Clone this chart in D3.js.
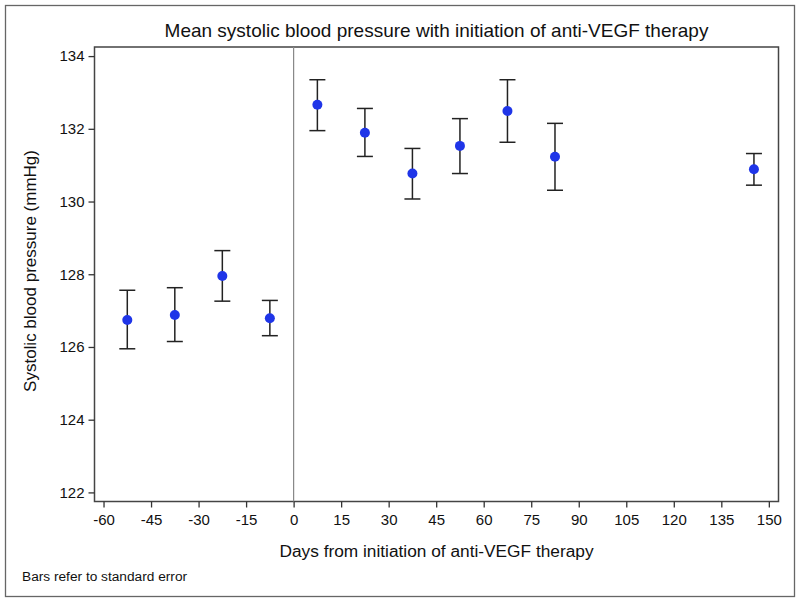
<!DOCTYPE html>
<html>
<head>
<meta charset="utf-8">
<script src="https://cdn.jsdelivr.net/npm/d3@7"></script>
<style>
  body { margin: 0; background: #fff; }
  text { font-family: "Liberation Sans", Arial, sans-serif; fill: #111; }
</style>
</head>
<body>
<div id="chart"></div>
<script>

// days from initiation (bin midpoints) and mean SBP with standard-error bounds
var days  = [-52.5, -37.5, -22.5, -7.5, 7.5, 22.5, 37.5, 52.5, 67.5, 82.5, 145.3];
var means = [126.74, 126.88, 127.95, 126.79, 132.66, 131.89, 130.77, 131.53, 132.49, 131.23, 130.89];
var upper = [127.56, 127.63, 128.65, 127.28, 133.35, 132.56, 131.46, 132.28, 133.35, 132.15, 131.32];
var lower = [125.95, 126.15, 127.26, 126.31, 131.95, 131.24, 130.07, 130.77, 131.63, 130.31, 130.45];

var xTicks = [-60, -45, -30, -15, 0, 15, 30, 45, 60, 75, 90, 105, 120, 135, 150];
var yTicks = [122, 124, 126, 128, 130, 132, 134];

var width = 800;
var height = 602;
var plotL = 94.5, plotR = 778.5, plotT = 47, plotB = 501.5;

var svg = d3
    .select('#chart')
    .append('svg')
    .attr('width', width)
    .attr('height', height);

// outer frame round the whole figure
svg.append('rect')
    .attr('x', 5.5).attr('y', 5.5)
    .attr('width', 789).attr('height', 591)
    .attr('fill', 'none')
    .attr('stroke', '#666')
    .attr('stroke-width', 1.3);

var xScaler = d3.scaleLinear().domain([-62.85, 153.05]).range([plotL, plotR]);
var yScaler = d3.scaleLinear().domain([121.75, 134.25]).range([plotB, plotT]);

// plot frame
svg.append('rect')
    .attr('x', plotL).attr('y', plotT)
    .attr('width', plotR - plotL).attr('height', plotB - plotT)
    .attr('fill', 'none')
    .attr('stroke', '#444')
    .attr('stroke-width', 1.5);

var xAxis = svg.append('g')
    .attr('transform', `translate(0,${plotB})`)
    .call(d3.axisBottom(xScaler).tickValues(xTicks).tickFormat(d => String(d))
        .tickSize(6).tickPadding(7).tickSizeOuter(0));

var yAxis = svg.append('g')
    .attr('transform', `translate(${plotL},0)`)
    .call(d3.axisLeft(yScaler).tickValues(yTicks).tickFormat(d => String(d))
        .tickSize(6).tickPadding(4).tickSizeOuter(0));

[xAxis, yAxis].forEach(ax => {
    ax.select('.domain').remove();
    ax.selectAll('line').attr('stroke', '#333').attr('stroke-width', 1.3);
    ax.selectAll('text').style('font-size', '15px').style('font-family', '"Liberation Sans", Arial, sans-serif').attr('fill', '#111');
});

// reference line at day 0
svg.append('line')
    .attr('x1', xScaler(0)).attr('x2', xScaler(0))
    .attr('y1', plotT).attr('y2', plotB)
    .attr('stroke', '#888')
    .attr('stroke-width', 1.2);

var data = days.map((d, i) => ({day: d, mean: means[i], hi: upper[i], lo: lower[i]}));

var bars = svg.append('g').attr('stroke', '#222').attr('stroke-width', 1.5);
var cap = 8;

bars.selectAll('.stem').data(data).enter()
    .append('line')
    .attr('x1', d => xScaler(d.day)).attr('x2', d => xScaler(d.day))
    .attr('y1', d => yScaler(d.hi)).attr('y2', d => yScaler(d.lo));

bars.selectAll('.capHi').data(data).enter()
    .append('line')
    .attr('x1', d => xScaler(d.day) - cap).attr('x2', d => xScaler(d.day) + cap)
    .attr('y1', d => yScaler(d.hi)).attr('y2', d => yScaler(d.hi));

bars.selectAll('.capLo').data(data).enter()
    .append('line')
    .attr('x1', d => xScaler(d.day) - cap).attr('x2', d => xScaler(d.day) + cap)
    .attr('y1', d => yScaler(d.lo)).attr('y2', d => yScaler(d.lo));

svg.append('g').selectAll('circle').data(data).enter()
    .append('circle')
    .attr('cx', d => xScaler(d.day))
    .attr('cy', d => yScaler(d.mean))
    .attr('r', 5)
    .attr('fill', '#1f35e8');

svg.append('text')
    .text('Mean systolic blood pressure with initiation of anti-VEGF therapy')
    .attr('x', (plotL + plotR) / 2)
    .attr('y', 37)
    .attr('text-anchor', 'middle')
    .style('font-size', '19px');

svg.append('text')
    .text('Days from initiation of anti-VEGF therapy')
    .attr('x', (plotL + plotR) / 2)
    .attr('y', 557)
    .attr('text-anchor', 'middle')
    .style('font-size', '17.3px');

svg.append('text')
    .text('Systolic blood pressure (mmHg)')
    .attr('transform', `translate(36,271)rotate(-90)`)
    .attr('text-anchor', 'middle')
    .style('font-size', '17px');

svg.append('text')
    .text('Bars refer to standard error')
    .attr('x', 22)
    .attr('y', 581)
    .style('font-size', '13.7px');

</script>
</body>
</html>
